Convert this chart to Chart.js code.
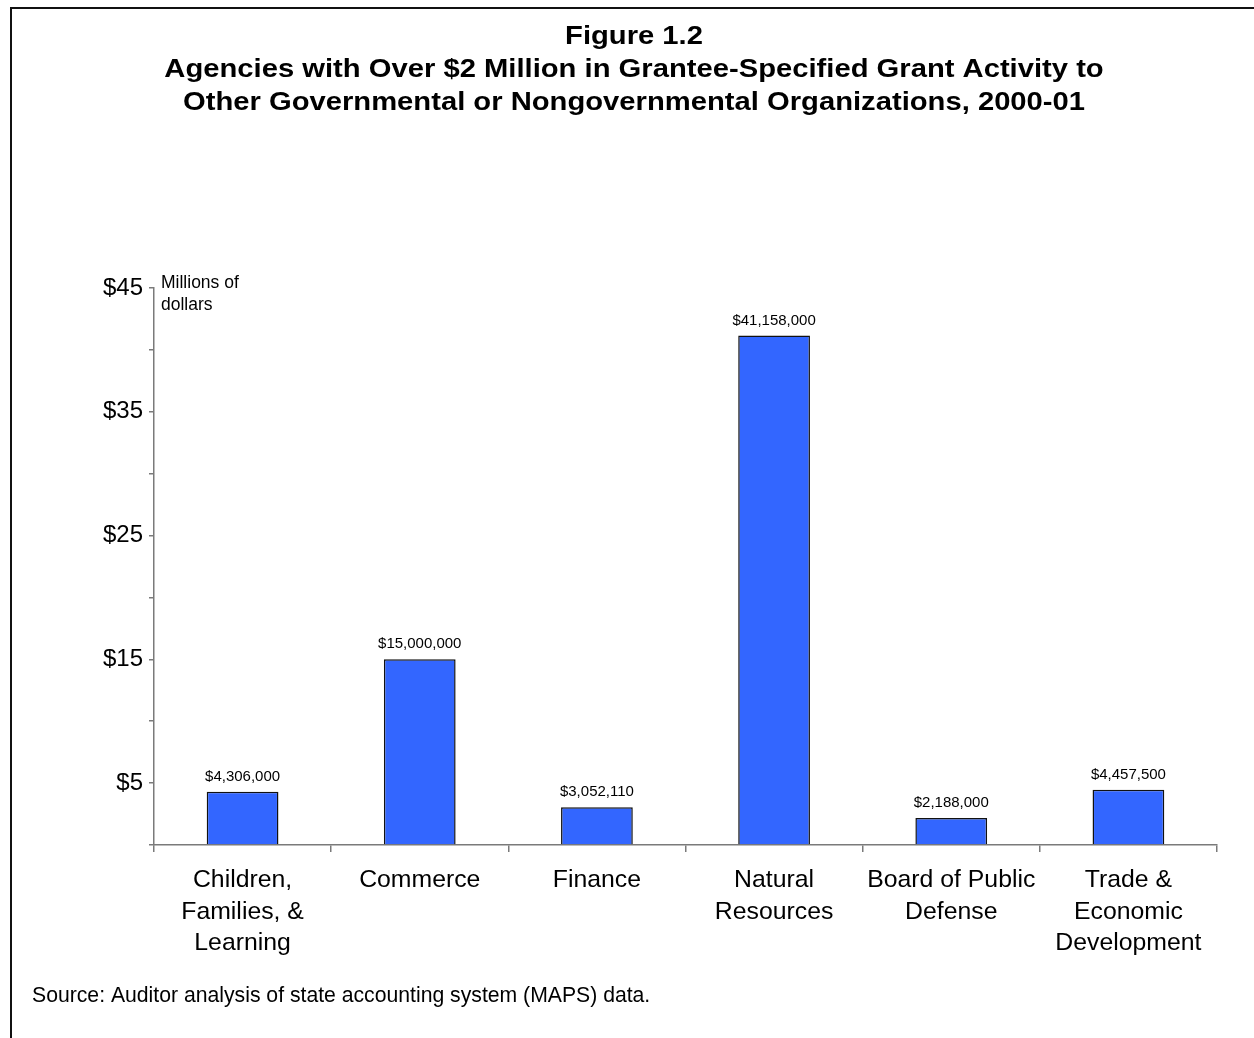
<!DOCTYPE html>
<html>
<head>
<meta charset="utf-8">
<script src="https://cdn.jsdelivr.net/npm/chart.js@4/dist/chart.umd.min.js"></script>
<style>
html,body{margin:0;padding:0;background:#fff;}
#wrap{position:relative;width:1254px;height:1038px;}
canvas{display:block;}
</style>
</head>
<body>
<div id="wrap"><canvas id="c" width="1254" height="1038"></canvas></div>
<script>
const categories = [
  ["Children,", "Families, &", "Learning"],
  ["Commerce"],
  ["Finance"],
  ["Natural", "Resources"],
  ["Board of Public", "Defense"],
  ["Trade &", "Economic", "Development"]
];
const valuesMillions = [4.306, 15.0, 3.05211, 41.158, 2.188, 4.4575];
const yTickLabels = [5, 15, 25, 35, 45];
const titleLines = [
  "Figure 1.2",
  "Agencies with Over $2 Million in Grantee-Specified Grant Activity to",
  "Other Governmental or Nongovernmental Organizations, 2000-01"
];
const unitLines = ["Millions of", "dollars"];
const sourceText = "Source: Auditor analysis of state accounting system (MAPS) data.";

const FONT = "'Liberation Sans', Arial, Helvetica, sans-serif";
const AXIS = "#7a7a7a";

function fmtDollars(v) {
  return "$" + Math.round(v * 1e6).toLocaleString("en-US");
}

const decor = {
  id: "decor",
  afterDraw(chart) {
    const ctx = chart.ctx;
    ctx.save();
    // frame
    ctx.strokeStyle = "#111";
    ctx.lineWidth = 2;
    ctx.beginPath();
    ctx.moveTo(11, 1038);
    ctx.lineTo(11, 8);
    ctx.lineTo(1254, 8);
    ctx.stroke();
    // titles (horizontally widened to match the reference lettering)
    ctx.fillStyle = "#000";
    ctx.textAlign = "center";
    ctx.textBaseline = "middle";
    ctx.font = "bold 25.5px " + FONT;
    const ty = [37, 70, 103];
    const sx = 1.145;
    titleLines.forEach((t, i) => {
      ctx.save();
      ctx.translate(634, ty[i]);
      ctx.scale(sx, 1);
      ctx.fillText(t, 0, 0);
      ctx.restore();
    });
    // unit label
    ctx.textAlign = "left";
    ctx.font = "17.5px " + FONT;
    ctx.fillText(unitLines[0], 161, 283);
    ctx.fillText(unitLines[1], 161, 305);
    // source
    ctx.font = "21.2px " + FONT;
    ctx.fillText(sourceText, 32, 996);
    // data labels
    ctx.textAlign = "center";
    ctx.textBaseline = "alphabetic";
    ctx.font = "15px " + FONT;
    const meta = chart.getDatasetMeta(0);
    meta.data.forEach((bar, i) => {
      ctx.fillText(fmtDollars(valuesMillions[i]), bar.x, bar.y - 11);
    });
    ctx.restore();
  }
};

new Chart(document.getElementById("c"), {
  type: "bar",
  data: {
    labels: categories,
    datasets: [{
      data: valuesMillions,
      backgroundColor: "#3366FF",
      borderColor: "#111",
      borderWidth: 1.5,
      barPercentage: 0.405,
      categoryPercentage: 1.0
    }]
  },
  options: {
    responsive: false,
    animation: false,
    devicePixelRatio: 1,
    layout: { padding: { top: 288, right: 37, left: 0, bottom: 0 } },
    plugins: { legend: { display: false }, tooltip: { enabled: false }, title: { display: false } },
    scales: {
      x: {
        grid: { display: true, drawOnChartArea: false, offset: true, tickLength: 7, color: AXIS, lineWidth: 1.5 },
        border: { display: true, color: AXIS, width: 1.5 },
        ticks: {
          color: "#000",
          font: { family: FONT, size: 24.8, lineHeight: 1.26 },
          maxRotation: 0, minRotation: 0, autoSkip: false, padding: 13
        },
        afterFit(scale) { scale.height = 1038 - 845; }
      },
      y: {
        min: 0, max: 45,
        grid: { display: true, drawOnChartArea: false, tickLength: 5, color: AXIS, lineWidth: 1.5 },
        border: { display: true, color: AXIS, width: 1.5 },
        ticks: {
          stepSize: 5,
          color: "#000",
          font: { family: FONT, size: 24 },
          padding: 6,
          callback: (v) => yTickLabels.includes(v) ? "$" + v : ""
        },
        afterFit(scale) { scale.width = 154; }
      }
    }
  },
  plugins: [decor]
});
</script>
</body>
</html>
